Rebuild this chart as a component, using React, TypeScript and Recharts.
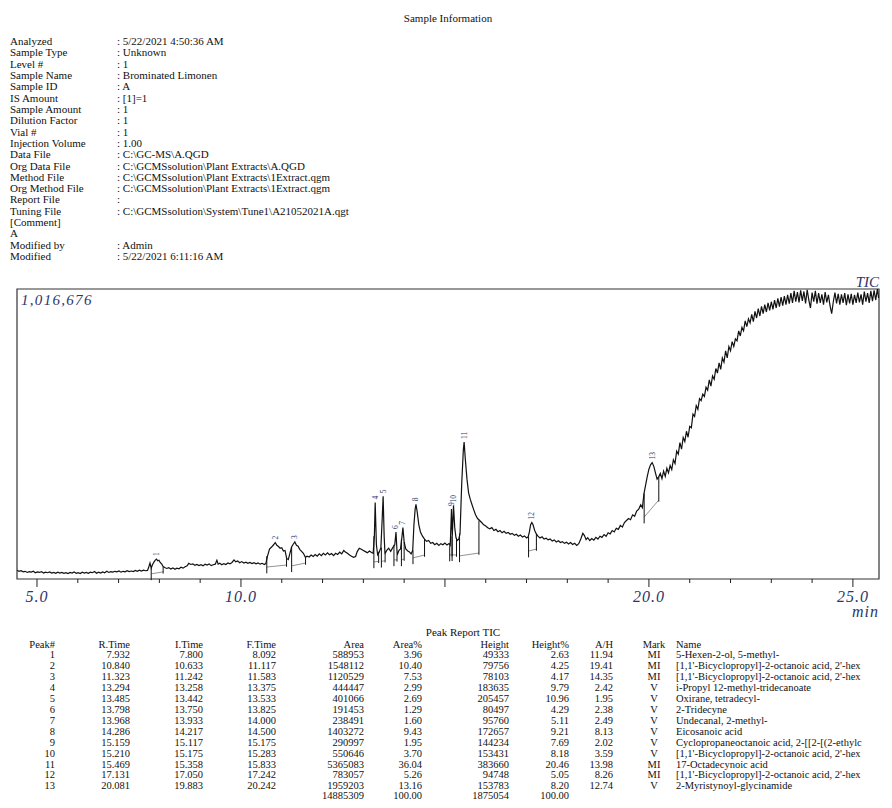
import { ComposedChart, Line, Scatter, XAxis, YAxis, ReferenceArea, ReferenceLine } from 'recharts';

const infoLabels = [
  'Analyzed', 'Sample Type', 'Level #', 'Sample Name', 'Sample ID', 'IS Amount', 'Sample Amount',
  'Dilution Factor', 'Vial #', 'Injection Volume', 'Data File', 'Org Data File', 'Method File',
  'Org Method File', 'Report File', 'Tuning File', '[Comment]', 'A', 'Modified by', 'Modified',
];
const infoValues = [
  ': 5/22/2021 4:50:36 AM', ': Unknown', ': 1', ': Brominated Limonen', ': A', ': [1]=1', ': 1',
  ': 1', ': 1', ': 1.00', ': C:\\GC-MS\\A.QGD', ': C:\\GCMSsolution\\Plant Extracts\\A.QGD',
  ': C:\\GCMSsolution\\Plant Extracts\\1Extract.qgm', ': C:\\GCMSsolution\\Plant Extracts\\1Extract.qgm',
  ':', ': C:\\GCMSsolution\\System\\Tune1\\A21052021A.qgt', '', '', ': Admin', ': 5/22/2021 6:11:16 AM',
];

// TIC trace, [retention time (min), intensity (x1000 counts)]
const ticEarly: [number, number][] = [
  [4.51, 31], [4.56, 27], [4.61, 29], [4.66, 25], [4.71, 27], [4.76, 23], [4.81, 26], [4.86, 24], [4.91, 27], [4.96, 22],
  [5.01, 25], [5.06, 23], [5.11, 26], [5.16, 21], [5.21, 24], [5.26, 22], [5.31, 25], [5.36, 21], [5.41, 23], [5.46, 20],
  [5.51, 24], [5.56, 21], [5.61, 23], [5.66, 20], [5.71, 22], [5.76, 19], [5.81, 23], [5.86, 21], [5.91, 25], [5.96, 20],
  [6.01, 22], [6.06, 19], [6.11, 24], [6.16, 21], [6.21, 23], [6.26, 20], [6.31, 24], [6.36, 22], [6.41, 26], [6.46, 20],
  [6.51, 24], [6.56, 21], [6.61, 25], [6.66, 22], [6.71, 27], [6.76, 23], [6.81, 26], [6.86, 24], [6.91, 27], [6.96, 25],
  [7.01, 28], [7.06, 24], [7.11, 27], [7.16, 25], [7.21, 29], [7.26, 26], [7.31, 28], [7.36, 26], [7.41, 30], [7.46, 27],
  [7.51, 31], [7.56, 28], [7.61, 31], [7.66, 29], [7.71, 30], [7.74, 42], [7.77, 56], [7.8, 38], [7.83, 50], [7.87, 60],
  [7.9, 66], [7.93, 70], [7.96, 64], [7.99, 66], [8.02, 58], [8.06, 52], [8.09, 44], [8.13, 40], [8.18, 37], [8.23, 40],
  [8.28, 35], [8.33, 39], [8.38, 34], [8.43, 38], [8.48, 36], [8.53, 41], [8.58, 38], [8.63, 43], [8.68, 46], [8.72, 55],
  [8.77, 51], [8.82, 53], [8.87, 48], [8.92, 51], [8.97, 47], [9.02, 50], [9.07, 46], [9.12, 52], [9.17, 49], [9.22, 53],
  [9.27, 47], [9.32, 50], [9.37, 52], [9.41, 66], [9.44, 52], [9.48, 55], [9.53, 50], [9.58, 54], [9.63, 51], [9.68, 56],
  [9.73, 53], [9.78, 58], [9.83, 67], [9.87, 60], [9.92, 63], [9.97, 57], [10.02, 61], [10.07, 56], [10.12, 59], [10.17, 55],
  [10.22, 58], [10.27, 54], [10.32, 57], [10.37, 53], [10.42, 56], [10.47, 52], [10.52, 55], [10.57, 51], [10.61, 54],
];
const ticMiddle: [number, number][] = [
  [10.65, 80], [10.7, 105], [10.75, 112], [10.8, 120], [10.84, 128], [10.88, 118], [10.92, 114], [10.96, 108], [11.0, 110],
  [11.04, 98], [11.08, 100], [11.12, 72], [11.16, 68], [11.2, 90], [11.24, 112], [11.28, 122], [11.32, 130], [11.36, 118],
  [11.4, 115], [11.44, 104], [11.48, 98], [11.53, 90], [11.58, 76], [11.62, 80], [11.67, 77], [11.72, 84], [11.77, 79],
  [11.82, 86], [11.87, 80], [11.92, 88], [11.97, 82], [12.02, 90], [12.07, 84], [12.12, 92], [12.17, 85], [12.22, 89],
  [12.27, 82], [12.32, 90], [12.37, 86], [12.42, 94], [12.47, 88], [12.52, 100], [12.56, 95], [12.61, 90], [12.66, 84],
  [12.71, 80], [12.76, 76], [12.81, 79], [12.85, 96], [12.9, 108], [12.95, 104], [13.0, 100], [13.05, 96], [13.1, 92],
  [13.15, 98], [13.2, 93], [13.24, 90], [13.27, 150], [13.29, 268], [13.32, 120], [13.35, 85], [13.39, 95], [13.43, 110],
  [13.46, 205], [13.485, 290], [13.51, 150], [13.53, 88], [13.57, 100], [13.62, 108], [13.67, 97], [13.72, 110], [13.77, 120],
  [13.8, 165], [13.83, 84], [13.87, 100], [13.91, 105], [13.94, 140], [13.97, 180], [14.0, 130], [14.04, 105], [14.09, 98],
  [14.13, 95], [14.17, 88], [14.21, 100], [14.24, 190], [14.27, 245], [14.29, 262], [14.32, 235], [14.36, 190], [14.4, 165],
  [14.45, 150], [14.5, 140], [14.55, 132], [14.6, 135], [14.65, 125], [14.7, 128], [14.75, 120], [14.8, 125], [14.85, 118],
  [14.9, 124], [14.95, 120], [15.0, 126], [15.05, 119], [15.1, 124], [15.13, 118], [15.15, 200], [15.16, 245], [15.18, 150],
  [15.2, 220], [15.21, 258], [15.24, 180], [15.27, 145], [15.3, 135], [15.34, 140], [15.37, 160], [15.41, 330], [15.45, 450],
  [15.47, 480], [15.5, 420], [15.54, 350], [15.58, 302], [15.62, 280], [15.66, 262], [15.7, 245], [15.75, 225], [15.8, 212],
  [15.85, 205], [15.9, 198], [15.95, 190], [16.0, 186], [16.05, 180], [16.1, 176], [16.15, 180], [16.2, 170], [16.25, 174],
  [16.3, 166], [16.35, 170], [16.4, 162], [16.45, 167], [16.5, 160], [16.55, 163], [16.6, 157], [16.65, 160], [16.7, 153],
  [16.75, 157], [16.8, 150], [16.85, 154], [16.9, 147], [16.95, 151], [17.0, 144], [17.04, 148], [17.07, 165], [17.1, 190],
  [17.13, 198], [17.16, 190], [17.2, 170], [17.24, 158], [17.28, 150], [17.33, 144], [17.38, 148], [17.43, 140], [17.48, 143],
  [17.53, 137], [17.58, 140], [17.63, 133], [17.68, 137], [17.73, 130], [17.78, 134], [17.83, 128], [17.88, 131], [17.93, 125],
  [17.98, 129], [18.03, 123], [18.08, 128], [18.13, 121], [18.18, 125], [18.23, 118], [18.28, 124], [18.33, 140], [18.38, 160],
  [18.42, 152], [18.46, 138], [18.5, 145], [18.55, 135], [18.6, 142], [18.65, 136], [18.7, 146], [18.75, 140], [18.8, 150],
  [18.85, 146], [18.9, 156], [18.95, 150], [19.0, 162], [19.05, 158], [19.1, 170], [19.15, 165], [19.2, 178], [19.25, 174],
  [19.3, 188], [19.35, 182], [19.4, 198], [19.45, 205], [19.5, 212], [19.55, 208], [19.6, 225], [19.65, 220], [19.7, 238],
  [19.75, 245], [19.8, 260], [19.84, 250],
];
const ticLate: [number, number][] = [
  [19.88, 300], [19.92, 330], [19.96, 360], [20.0, 385], [20.04, 400], [20.08, 408], [20.12, 395], [20.16, 372], [20.2, 350],
  [20.24, 358], [20.28, 370], [20.32, 352], [20.36, 378], [20.4, 360], [20.44, 388], [20.48, 372], [20.52, 398], [20.56, 384],
  [20.6, 418], [20.64, 405], [20.68, 448], [20.72, 438], [20.76, 478], [20.8, 455], [20.84, 496], [20.88, 482], [20.92, 518],
  [20.96, 497], [21.0, 535], [21.04, 530], [21.08, 578], [21.12, 570], [21.16, 608], [21.2, 595], [21.24, 632], [21.28, 625],
  [21.32, 648], [21.36, 640], [21.4, 672], [21.44, 662], [21.48, 698], [21.52, 676], [21.56, 712], [21.6, 700], [21.64, 738],
  [21.68, 722], [21.72, 758], [21.76, 735], [21.8, 775], [21.84, 760], [21.88, 800], [21.92, 775], [21.96, 815], [22.0, 800],
  [22.04, 832], [22.08, 815], [22.12, 842], [22.16, 835], [22.2, 870], [22.24, 852], [22.28, 882], [22.32, 870], [22.36, 905],
  [22.4, 885], [22.44, 912], [22.48, 898], [22.52, 928], [22.56, 902], [22.6, 938], [22.64, 915], [22.68, 948], [22.72, 922],
  [22.76, 956], [22.8, 930], [22.84, 962], [22.88, 936], [22.92, 968], [22.96, 942], [23.0, 972], [23.04, 945], [23.08, 978],
  [23.12, 950], [23.16, 984], [23.2, 955], [23.24, 988], [23.28, 958], [23.32, 992], [23.36, 962], [23.4, 996], [23.44, 965],
  [23.48, 1002], [23.52, 968], [23.56, 1010], [23.6, 972], [23.64, 1006], [23.68, 970], [23.72, 1012], [23.76, 975],
  [23.8, 1008], [23.84, 966], [23.88, 1014], [23.92, 978], [23.96, 950], [24.0, 1004], [24.04, 972], [24.08, 1010],
  [24.12, 965], [24.16, 1002], [24.2, 968], [24.24, 998], [24.28, 962], [24.32, 1006], [24.36, 970], [24.4, 996], [24.44, 958],
  [24.48, 930], [24.52, 972], [24.56, 1004], [24.6, 966], [24.64, 1000], [24.68, 962], [24.72, 998], [24.76, 968], [24.8, 1002],
  [24.84, 960], [24.88, 998], [24.92, 966], [24.96, 1000], [25.0, 962], [25.04, 996], [25.08, 968], [25.12, 1004], [25.16, 970],
  [25.2, 998], [25.24, 962], [25.28, 1008], [25.32, 972], [25.36, 1002], [25.4, 968], [25.44, 1010], [25.48, 974], [25.52, 1012],
  [25.56, 978], [25.6, 1016], [25.63, 985],
];

// peak table
const peakNo = [1, 2, 3, 4, 5, 6, 7, 8, 9, 10, 11, 12, 13];
const rTime = [7.932, 10.84, 11.323, 13.294, 13.485, 13.798, 13.968, 14.286, 15.159, 15.21, 15.469, 17.131, 20.081];
const iTime = [7.8, 10.633, 11.242, 13.258, 13.442, 13.75, 13.933, 14.217, 15.117, 15.175, 15.358, 17.05, 19.883];
const fTime = [8.092, 11.117, 11.583, 13.375, 13.533, 13.825, 14.0, 14.5, 15.175, 15.283, 15.833, 17.242, 20.242];
const area = [588953, 1548112, 1120529, 444447, 401066, 191453, 238491, 1403272, 290997, 550646, 5365083, 783057, 1959203];
const areaPct = ['3.96', '10.40', '7.53', '2.99', '2.69', '1.29', '1.60', '9.43', '1.95', '3.70', '36.04', '5.26', '13.16'];
const height = [49333, 79756, 78103, 183635, 205457, 80497, 95760, 172657, 144234, 153431, 383660, 94748, 153783];
const heightPct = ['2.63', '4.25', '4.17', '9.79', '10.96', '4.29', '5.11', '9.21', '7.69', '8.18', '20.46', '5.05', '8.20'];
const aOverH = ['11.94', '19.41', '14.35', '2.42', '1.95', '2.38', '2.49', '8.13', '2.02', '3.59', '13.98', '8.26', '12.74'];
const mark = ['MI', 'MI', 'MI', 'V', 'V', 'V', 'V', 'V', 'V', 'V', 'MI', 'MI', 'V'];
// names as they appear on the page (the report runs past the right edge)
const names = [
  '5-Hexen-2-ol, 5-methyl-',
  "[1,1'-Bicyclopropyl]-2-octanoic acid, 2'-hex",
  "[1,1'-Bicyclopropyl]-2-octanoic acid, 2'-hex",
  'i-Propyl 12-methyl-tridecanoate',
  'Oxirane, tetradecyl-',
  '2-Tridecyne',
  'Undecanal, 2-methyl-',
  'Eicosanoic acid',
  'Cyclopropaneoctanoic acid, 2-[[2-[(2-ethylc',
  "[1,1'-Bicyclopropyl]-2-octanoic acid, 2'-hex",
  '17-Octadecynoic acid',
  "[1,1'-Bicyclopropyl]-2-octanoic acid, 2'-hex",
  '2-Myristynoyl-glycinamide',
];
const areaTotal = 14885309;
const heightTotal = 1875054;

// integration baseline levels at peak start / end (x1000 counts)
const baseStart = [18, 42, 46, 60, 62, 67, 67, 74, 84, 85, 81, 98, 217];
const baseEnd = [25, 49, 56, 62, 64, 67, 70, 84, 85, 84, 91, 105, 277];

const xTicks = [5, 6, 7, 8, 9, 10, 11, 12, 13, 14, 15, 16, 17, 18, 19, 20, 21, 22, 23, 24, 25];
const xLabels = [5, 10, 20, 25];
const maxIntensity = 1016.676;
const X_MIN = 4.51;
const X_MAX = 25.64;

const trace = [...ticEarly, ...ticMiddle, ...ticLate].map(([t, v]) => ({ t, v }));

const valueAt = (t: number) => {
  let best = trace[0];
  for (const p of trace) if (Math.abs(p.t - t) < Math.abs(best.t - t)) best = p;
  return best.v;
};
const apexAt = (t: number) => Math.max(...trace.filter(p => Math.abs(p.t - t) < 0.025).map(p => p.v), valueAt(t));

const peakPoints = peakNo.map((n, i) => ({ t: rTime[i], v: apexAt(rTime[i]), n }));

const NAVY = '#2b356e';
const serif = '"Liberation Serif", "DejaVu Serif", serif';

const AxisTick = ({ x, y, payload }: any) => {
  const v = payload.value;
  const major = v % 5 === 0;
  return (
    <g>
      <line x1={x} x2={x} y1={y} y2={y + (major ? 8 : 4)} stroke="#222" strokeWidth={1} />
      {xLabels.includes(v) && (
        <text x={x} y={y + 23} textAnchor="middle" fontStyle="italic" fontSize={16} letterSpacing={1}
          fill={NAVY} fontFamily={serif}>
          {v.toFixed(1)}
        </text>
      )}
    </g>
  );
};

const PeakLabel = ({ cx, cy, payload }: any) => (
  <text x={cx + 2.5} y={cy - 3} transform={`rotate(-90 ${cx + 2.5} ${cy - 3})`} fontSize={7.5}
    fill={NAVY} fontFamily={serif}>
    {payload.n}
  </text>
);

const HEAD_Y = 648;
const ROW0 = 658;
const ROW_H = 10.95;
const TOTAL_Y = 799;
const TABLE_FONT = 10.5;

export default function App() {
  const tableCols = [
    { x: 55, anchor: 'end', head: 'Peak#', vals: peakNo.map(String) },
    { x: 130, anchor: 'end', head: 'R.Time', vals: rTime.map(v => v.toFixed(3)) },
    { x: 203, anchor: 'end', head: 'I.Time', vals: iTime.map(v => v.toFixed(3)) },
    { x: 276, anchor: 'end', head: 'F.Time', vals: fTime.map(v => v.toFixed(3)) },
    { x: 364, anchor: 'end', head: 'Area', vals: area.map(String) },
    { x: 422, anchor: 'end', head: 'Area%', vals: areaPct },
    { x: 509, anchor: 'end', head: 'Height', vals: height.map(String) },
    { x: 569, anchor: 'end', head: 'Height%', vals: heightPct },
    { x: 613, anchor: 'end', head: 'A/H', vals: aOverH },
    { x: 654, anchor: 'middle', head: 'Mark', vals: mark },
    { x: 676, anchor: 'start', head: 'Name', vals: names },
  ];

  return (
    <div style={{ position: 'relative', width: 892, height: 808, margin: -8, overflow: 'hidden', background: '#fff' }}>
      <svg width={892} height={808} style={{ position: 'absolute', left: 0, top: 0 }} fontFamily={serif} fill="#111">
        <text x={448} y={22} textAnchor="middle" fontSize={11}>Sample Information</text>
        {infoLabels.map((l, i) => (
          <g key={l + i}>
            <text x={10} y={45 + i * 11.32} fontSize={11}>{l}</text>
            <text x={117} y={45 + i * 11.32} fontSize={11}>{infoValues[i]}</text>
          </g>
        ))}

        <text x={21} y={305} fontSize={15} fontStyle="italic" letterSpacing={1.3} fill={NAVY}>1,016,676</text>
        <text x={879} y={287} textAnchor="end" fontSize={15} fontStyle="italic" fill={NAVY}>TIC</text>
        <text x={879} y={617} textAnchor="end" fontSize={16} fontStyle="italic" letterSpacing={1} fill={NAVY}>min</text>

        <text x={463} y={636} textAnchor="middle" fontSize={11}>Peak Report TIC</text>
        {tableCols.map(c => (
          <g key={c.head}>
            <text x={c.x} y={HEAD_Y} textAnchor={c.anchor as any} fontSize={TABLE_FONT}>{c.head}</text>
            {c.vals.map((v, i) => (
              <text key={i} x={c.x} y={ROW0 + i * ROW_H} textAnchor={c.anchor as any} fontSize={TABLE_FONT}>{v}</text>
            ))}
          </g>
        ))}
        <text x={364} y={TOTAL_Y} textAnchor="end" fontSize={TABLE_FONT}>{areaTotal}</text>
        <text x={422} y={TOTAL_Y} textAnchor="end" fontSize={TABLE_FONT}>100.00</text>
        <text x={509} y={TOTAL_Y} textAnchor="end" fontSize={TABLE_FONT}>{heightTotal}</text>
        <text x={569} y={TOTAL_Y} textAnchor="end" fontSize={TABLE_FONT}>100.00</text>
      </svg>

      <div style={{ position: 'absolute', left: 0, top: 270 }}>
        <ComposedChart width={892} height={350} margin={{ top: 19, right: 13, bottom: 0, left: 17 }}>
          <XAxis dataKey="t" type="number" domain={[X_MIN, X_MAX]} ticks={xTicks} allowDataOverflow
            axisLine={false} tickLine={false} tickSize={0} tickMargin={0} height={41} tick={<AxisTick />}
            interval={0} />
          <YAxis type="number" domain={[0, maxIntensity]} hide allowDataOverflow />
          <ReferenceArea x1={X_MIN} x2={X_MAX} y1={0} y2={maxIntensity} fill="none" stroke="#333"
            strokeWidth={1.2} ifOverflow="visible" />
          {peakNo.map((n, i) => (
            <ReferenceLine key={'b' + n} segment={[{ x: iTime[i], y: baseStart[i] }, { x: fTime[i], y: baseEnd[i] }]}
              stroke="#777" strokeWidth={0.8} ifOverflow="visible" />
          ))}
          {peakNo.map((n, i) => (
            <ReferenceLine key={'s' + n}
              segment={[{ x: iTime[i], y: baseStart[i] - 22 }, { x: iTime[i], y: Math.max(valueAt(iTime[i]), baseStart[i] + 8) }]}
              stroke="#111" strokeWidth={1} ifOverflow="visible" />
          ))}
          {peakNo.map((n, i) => (
            <ReferenceLine key={'e' + n}
              segment={[{ x: fTime[i], y: baseEnd[i] - 6 }, { x: fTime[i], y: Math.max(valueAt(fTime[i]), baseEnd[i] + 8) }]}
              stroke="#111" strokeWidth={1} ifOverflow="visible" />
          ))}
          <Line data={trace} dataKey="v" type="linear" stroke="#111" strokeWidth={1.2} dot={false}
            isAnimationActive={false} />
          <Scatter data={peakPoints} dataKey="v" shape={<PeakLabel />} isAnimationActive={false} />
        </ComposedChart>
      </div>
    </div>
  );
}
